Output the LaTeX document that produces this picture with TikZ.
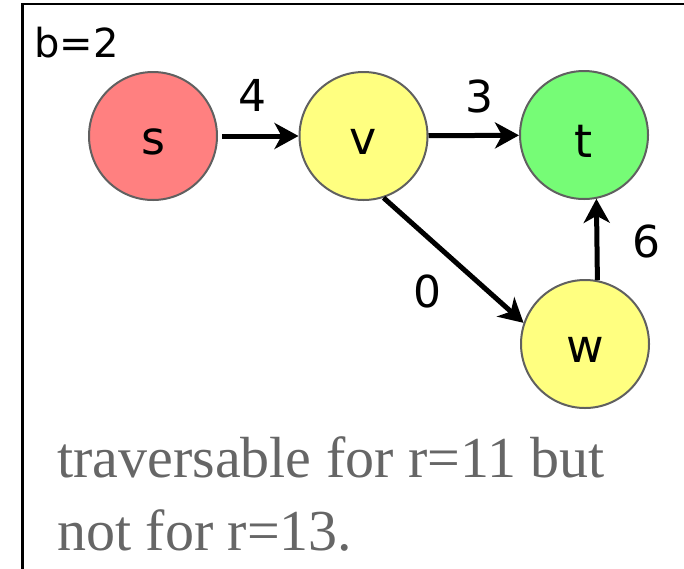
\documentclass[tikz,border=0pt]{standalone}
\usepackage{fontspec}
\setmainfont{Liberation Serif}
\newfontfamily\labelfont{DejaVu Sans}
\usetikzlibrary{arrows.meta}
\definecolor{sred}{RGB}{255,128,128}
\definecolor{vyellow}{RGB}{255,255,128}
\definecolor{tgreen}{RGB}{118,252,118}
\definecolor{ringgray}{RGB}{96,96,96}
\definecolor{notegray}{RGB}{102,102,102}
% vertex names sit a little below the centre of their circle
\newcommand{\vlabel}[1]{\raisebox{-6pt}[\height][\depth]{#1}}
\tikzset{
  vertex/.style={circle, draw=ringgray, line width=2pt, minimum size=128pt,
    inner sep=0pt, font=\labelfont\fontsize{46}{46}\selectfont},
  edgearrow/.style={line width=5pt, -{Stealth[length=24pt,width=26pt,inset=7pt]}},
  weight/.style={font=\labelfont\fontsize{44}{44}\selectfont, inner sep=0pt},
  note/.style={anchor=base west, inner sep=0pt, text=notegray,
    font=\fontsize{58}{73}\selectfont}
}
\begin{document}
\begin{tikzpicture}[x=1pt, y=-1pt]
\useasboundingbox (0,0) rectangle (684,568);
% frame, open at the right and bottom
\draw[line width=2.5pt] (22.5,620) -- (22.5,4) -- (720,4);

\node[anchor=base west, inner sep=0pt, font=\labelfont\fontsize{40}{40}\selectfont] (budget) at (34,57) {b=2};

\node[vertex, fill=sred]    (s) at (153,136) {\vlabel{s}};
\node[vertex, fill=vyellow] (v) at (363.5,136) {\vlabel{v}};
\node[vertex, fill=tgreen]  (t) at (584,135) {\vlabel{t}};
\node[vertex, fill=vyellow] (w) at (585,344) {\vlabel{w}};

\draw[edgearrow, shorten <=4pt] (s) -- (v);
\draw[edgearrow] (v) -- (t);
\draw[edgearrow] (v.288) -- (w.161);
\draw[edgearrow] (w.79) -- (t.281);

\node[weight] (ls) at (252,95) {4};
\node[weight] (lv) at (479,96) {3};
\node[weight] (lw) at (427,291) {0};
\node[weight] (lt) at (646,241) {6};

\node[note] (line1) at (57,477) {traversable for r=11 but};
\node[note] (line2) at (57,550) {not for r=13.};
\end{tikzpicture}
\end{document}
